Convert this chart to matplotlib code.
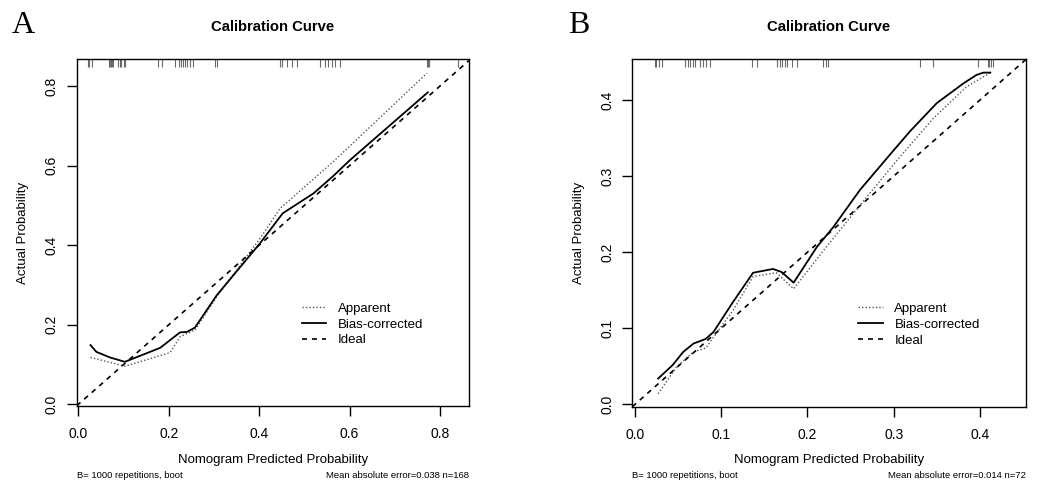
import matplotlib
matplotlib.use("Agg")
import matplotlib.pyplot as plt
import matplotlib.transforms as mtransforms

plt.rcParams['font.family'] = ['Liberation Sans', 'DejaVu Sans']

# ---- panel A data ----
a_app_x = [0.027, 0.103, 0.203, 0.225, 0.258, 0.306, 0.372, 0.402, 0.446, 0.476, 0.564, 0.771]
a_app_y = [0.118, 0.096, 0.130, 0.170, 0.187, 0.270, 0.371, 0.417, 0.492, 0.522, 0.610, 0.832]
a_bc_x = [0.027, 0.040, 0.070, 0.103, 0.181, 0.225, 0.240, 0.258, 0.306, 0.402, 0.452, 0.520, 0.564, 0.601, 0.773]
a_bc_y = [0.149, 0.132, 0.118, 0.107, 0.142, 0.181, 0.182, 0.193, 0.274, 0.405, 0.480, 0.530, 0.574, 0.614, 0.784]
a_rug = [0.022, 0.024, 0.030, 0.068, 0.070, 0.072, 0.074, 0.077, 0.088, 0.092, 0.095, 0.100,
         0.103, 0.176, 0.185, 0.214, 0.222, 0.228, 0.232, 0.236, 0.240, 0.246, 0.254, 0.303,
         0.307, 0.446, 0.450, 0.462, 0.473, 0.484, 0.535, 0.545, 0.552, 0.560, 0.568, 0.579,
         0.771, 0.774, 0.776, 0.840]
a_ticks = [0.0, 0.2, 0.4, 0.6, 0.8]
a_note = "Mean absolute error=0.038 n=168"

# ---- panel B data ----
b_app_x = [0.027, 0.048, 0.068, 0.082, 0.114, 0.137, 0.164, 0.184, 0.222, 0.269, 0.307, 0.346, 0.384, 0.412]
b_app_y = [0.014, 0.049, 0.069, 0.074, 0.124, 0.168, 0.173, 0.152, 0.207, 0.273, 0.325, 0.376, 0.417, 0.436]
b_bc_x = [0.027, 0.044, 0.056, 0.068, 0.082, 0.091, 0.114, 0.137, 0.160, 0.170, 0.184, 0.211, 0.230,
          0.261, 0.300, 0.319, 0.350, 0.381, 0.396, 0.404, 0.412]
b_bc_y = [0.034, 0.052, 0.069, 0.080, 0.086, 0.095, 0.135, 0.173, 0.178, 0.174, 0.160, 0.207, 0.233,
          0.282, 0.334, 0.359, 0.396, 0.422, 0.433, 0.436, 0.436]
b_rug = [0.023, 0.025, 0.028, 0.031, 0.058, 0.061, 0.064, 0.067, 0.070, 0.075, 0.079, 0.083, 0.087,
         0.136, 0.141, 0.165, 0.168, 0.171, 0.174, 0.176, 0.182, 0.188, 0.218, 0.221, 0.224,
         0.330, 0.345, 0.398, 0.409, 0.411, 0.413, 0.415]
b_ticks = [0.0, 0.1, 0.2, 0.3, 0.4]
b_note = "Mean absolute error=0.014 n=72"

W, H = 1039, 484
fig = plt.figure(figsize=(W / 100, H / 100), dpi=100)


def panel(rect, letter, letter_x, app_x, app_y, bc_x, bc_y, rug, ticks, lims, note):
    l, t, r, b = rect
    ax = fig.add_axes([l / W, 1 - b / H, (r - l) / W, (b - t) / H])
    ax.set_xlim(lims[0])
    ax.set_ylim(lims[1])

    ax.plot(app_x, app_y, color='#555555', lw=1.0, linestyle=(0, (1, 1.5)), label='Apparent')
    ax.plot(bc_x, bc_y, color='black', lw=1.3, label='Bias-corrected')
    ax.axline((0, 0), slope=1, color='black', lw=1.2, linestyle=(0, (3, 3)), label='Ideal')

    trans = mtransforms.blended_transform_factory(ax.transData, ax.transAxes)
    ax.vlines(rug, 0.977, 1.0, transform=trans, color='#6a6a6a', lw=0.8)

    ax.set_xticks(ticks)
    ax.set_yticks(ticks)
    ax.set_xticklabels([f"{v:.1f}" for v in ticks])
    ax.set_yticklabels([f"{v:.1f}" for v in ticks], rotation=90, va='center')
    ax.tick_params(axis='both', length=7, width=1, labelsize=10)
    ax.tick_params(axis='x', pad=8)
    ax.tick_params(axis='y', pad=6)
    for s in ax.spines.values():
        s.set_linewidth(1.0)

    ax.set_xlabel("Nomogram Predicted Probability", fontsize=9.5, va='center')
    ax.xaxis.set_label_coords(0.5, -(460 - b) / (b - t))
    ax.set_ylabel("Actual Probability", fontsize=9.5, va='center')
    ax.yaxis.set_label_coords(-(l - 23 - (letter_x - 12)) / (r - l), 0.5)

    ax.text(0.5, (b - 27) / (b - t), "Calibration Curve", transform=ax.transAxes,
            ha='center', va='center', fontsize=10.7, fontweight='bold')
    ax.text(0, -(475 - b) / (b - t), "B= 1000 repetitions, boot", transform=ax.transAxes,
            ha='left', va='center', fontsize=6.8)
    ax.text(1, -(475 - b) / (b - t), note, transform=ax.transAxes,
            ha='right', va='center', fontsize=6.8)

    fig.text(letter_x / W, 1 - 33 / H, letter, family='Liberation Serif', fontsize=23,
             ha='left', va='baseline')

    ax.legend(loc='upper left', bbox_to_anchor=(0.574, 0.299), frameon=False, fontsize=9.5,
              handlelength=1.85, handletextpad=0.9, labelspacing=0.28, borderpad=0,
              borderaxespad=0)
    return ax


panel((76.7, 59.3, 469.0, 406.0), "A", 12, a_app_x, a_app_y, a_bc_x, a_bc_y, a_rug, a_ticks,
      ((-0.0035, 0.864), (-0.004, 0.867)), a_note)
panel((632.3, 59.3, 1025.7, 406.7), "B", 568, b_app_x, b_app_y, b_bc_x, b_bc_y, b_rug, b_ticks,
      ((-0.003, 0.453), (-0.003, 0.4535)), b_note)

fig.savefig("out.png", dpi=100)
